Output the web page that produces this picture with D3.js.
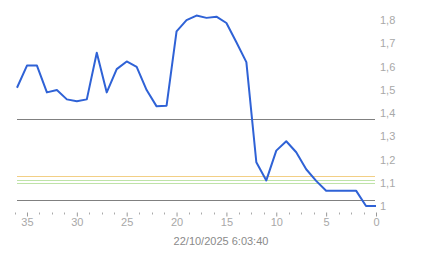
<!DOCTYPE html>
<html>
<head>
<meta charset="utf-8">
<script src="https://cdn.jsdelivr.net/npm/d3@7"></script>
<style>
  body { margin: 0; background: #fff; }
  svg { display: block; font-family: "Liberation Sans", Arial, sans-serif; }
</style>
</head>
<body>
<div id="chart"></div>
<script>
const width = 443;
const height = 258;

// minutes ago (x) and value (y)
const minutesAgo = [36, 35, 34, 33, 32, 31, 30, 29, 28, 27, 26, 25, 24, 23, 22, 21, 20, 19, 18, 17, 16, 15, 14, 13, 12, 11, 10, 9, 8, 7, 6, 5, 4, 3, 2, 1, 0];
const values = [1.51, 1.605, 1.605, 1.49, 1.50, 1.46, 1.452, 1.46, 1.66, 1.49, 1.59, 1.623, 1.60, 1.50, 1.43, 1.433, 1.752, 1.80, 1.82, 1.81, 1.815, 1.788, 1.705, 1.62, 1.19, 1.112, 1.24, 1.28, 1.233, 1.16, 1.11, 1.068, 1.068, 1.068, 1.068, 1.002, 1.002];

// reference lines
const refValues = [1.375, 1.132, 1.115, 1.10, 1.03];
const refColors = ["#808080", "#f2cf85", "#bfe3a8", "#bfe3a8", "#808080"];

const yTicks = [1, 1.1, 1.2, 1.3, 1.4, 1.5, 1.6, 1.7, 1.8];
const xTicks = [35, 30, 25, 20, 15, 10, 5, 0];
const timeLabel = "22/10/2025 6:03:40";

const svg = d3.select("#chart")
  .append("svg")
  .attr("width", width)
  .attr("height", height);

const xScale = d3.scaleLinear()
  .domain([36, 0])
  .range([17, 376]);

const yScale = d3.scaleLinear()
  .domain([1, 1.8])
  .range([206.5, 20.2]);

const axisY = 212.5;

// reference lines
svg.append("g")
  .selectAll("line")
  .data(refValues)
  .join("line")
  .attr("x1", xScale(36))
  .attr("x2", xScale(0) - 1)
  .attr("y1", d => Math.round(yScale(d)) + 0.5)
  .attr("y2", d => Math.round(yScale(d)) + 0.5)
  .attr("stroke", (d, i) => refColors[i])
  .attr("stroke-width", 1);

// line
const line = d3.line()
  .x((d, i) => xScale(minutesAgo[i]))
  .y(d => yScale(d));

svg.append("path")
  .datum(values)
  .attr("d", line)
  .attr("fill", "none")
  .attr("stroke", "#2f62d6")
  .attr("stroke-width", 2)
  .attr("stroke-linejoin", "round");

// minor ticks
const minorTicks = d3.range(0, 37, 1.25).filter(d => d % 5 !== 0);
svg.append("g")
  .selectAll("line")
  .data(minorTicks)
  .join("line")
  .attr("x1", d => Math.round(xScale(d)) + 0.5)
  .attr("x2", d => Math.round(xScale(d)) + 0.5)
  .attr("y1", axisY)
  .attr("y2", axisY + 2)
  .attr("stroke", "#aaa");

// x axis
const xAxis = svg.append("g")
  .attr("transform", `translate(0, ${axisY})`)
  .call(d3.axisBottom(xScale).tickValues(xTicks).tickSize(4).tickPadding(2).tickFormat(d3.format("d")));
xAxis.select(".domain").remove();
xAxis.selectAll("line").attr("stroke", "#999");
xAxis.selectAll("text")
  .attr("fill", "#a8a8a8")
  .attr("font-size", "11px")
  .attr("font-family", "Liberation Sans, Arial, sans-serif");

// y labels
svg.append("g")
  .selectAll("text")
  .data(yTicks)
  .join("text")
  .attr("x", 380)
  .attr("y", d => yScale(d))
  .attr("dy", "0.35em")
  .attr("fill", "#a8a8a8")
  .attr("font-size", "11px")
  .text(d => d3.format("~g")(d).replace(".", ","));

// time label
svg.append("text")
  .attr("x", 221)
  .attr("y", 245)
  .attr("text-anchor", "middle")
  .attr("fill", "#8a8a8a")
  .attr("font-size", "11px")
  .text(timeLabel);
</script>
</body>
</html>
